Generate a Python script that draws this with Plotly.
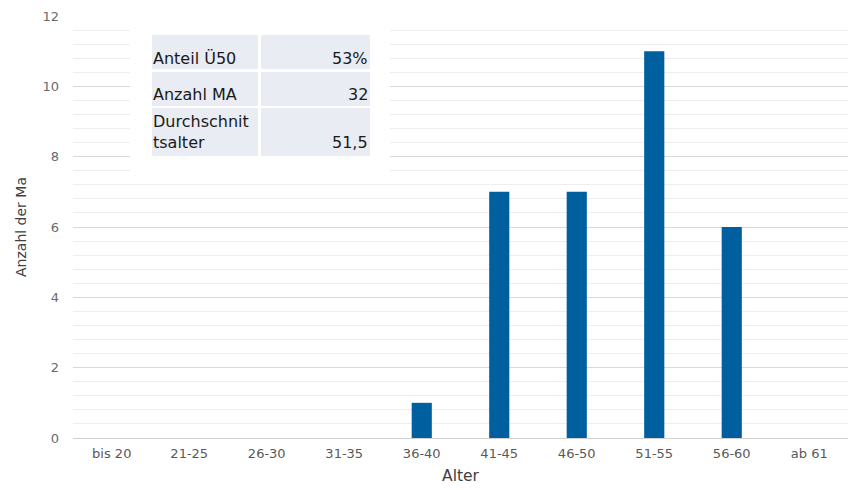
import plotly.graph_objects as go

categories = ["bis 20", "21-25", "26-30", "31-35", "36-40", "41-45", "46-50", "51-55", "56-60", "ab 61"]
counts = [0, 0, 0, 0, 1, 7, 7, 11, 6, 0]
table_labels = ["Anteil Ü50", "Anzahl MA", "Durchschnit<br>tsalter"]
table_values = ["53%", "32", "51,5"]

W, H = 851, 490
L, R, T, B = 73, 848, 16, 438  # plot area in pixels


def px(x):
    return (x - L) / (R - L)


def py(y):
    return (B - y) / (B - T)


fig = go.Figure()
fig.add_trace(go.Bar(x=categories, y=counts, marker_color="#005F9F",
                     marker_line_width=0, width=0.26))

font = "DejaVu Sans, Liberation Sans, sans-serif"
fig.update_layout(
    width=W, height=H,
    margin=dict(l=L, r=W - R, t=T, b=H - B),
    paper_bgcolor="white", plot_bgcolor="white",
    showlegend=False,
    font=dict(family=font, color="#595959", size=13),
    xaxis=dict(title=dict(text="Alter", font=dict(size=15.5, color="#404040"), standoff=10),
               showgrid=False, ticks="", ticklabelstandoff=6,
               tickfont=dict(size=13, color="#595959")),
    yaxis=dict(title=dict(text="Anzahl der Ma", font=dict(size=14, color="#404040"), standoff=12),
               range=[0, 12], dtick=2, tick0=0, showgrid=True, gridcolor="#D9D9D9",
               zeroline=True, zerolinecolor="#D0D0D0", zerolinewidth=1,
               ticklabelstandoff=13,
               tickfont=dict(size=13, color="#6A6A6A"),
               minor=dict(dtick=0.4, tick0=0, showgrid=True, gridcolor="#EEEEEE", gridwidth=1)),
)

shapes = []
# white backing of the table
shapes.append(dict(type="rect", xref="paper", yref="paper", x0=px(130), x1=px(390),
                   y0=py(172), y1=py(14), fillcolor="white", line_width=0, layer="above"))
rows = [(35, 69), (72, 106), (108, 156)]
cols = [(152, 258), (261, 370)]
for (ya, yb) in rows:
    for (xa, xb) in cols:
        shapes.append(dict(type="rect", xref="paper", yref="paper", x0=px(xa), x1=px(xb),
                           y0=py(yb), y1=py(ya), fillcolor="#E9ECF3", line_width=0, layer="above"))
fig.update_layout(shapes=shapes)

baselines = [66, 102, 150]
for base, lab, val in zip(baselines, table_labels, table_values):
    fig.add_annotation(xref="paper", yref="paper", x=px(151), y=py(base + 4), text=lab,
                       showarrow=False, xanchor="left", yanchor="bottom", align="left",
                       font=dict(family=font, size=16, color="#1A1A1A"))
    fig.add_annotation(xref="paper", yref="paper", x=px(370), y=py(base + 4), text=val,
                       showarrow=False, xanchor="right", yanchor="bottom", align="right",
                       font=dict(family=font, size=16, color="#1A1A1A"))

fig.write_html("out.html")
